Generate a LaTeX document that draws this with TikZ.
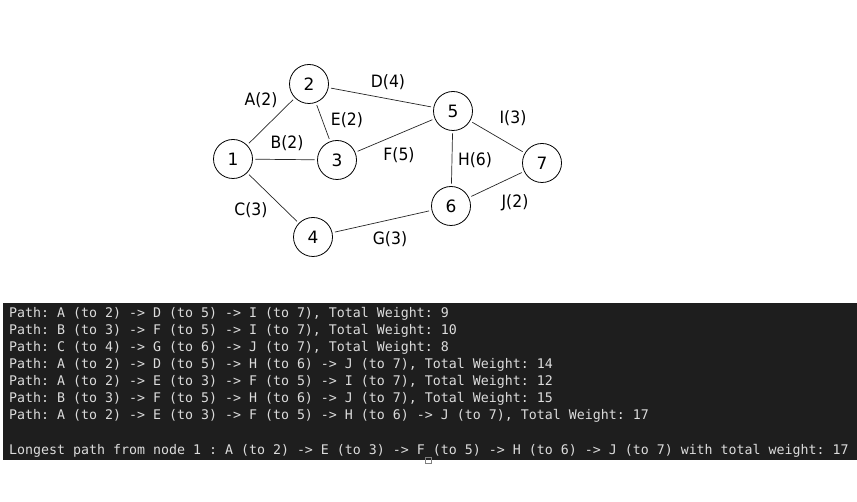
\documentclass[tikz,border=0pt]{standalone}
\usepackage{fontspec}
\setmainfont{DejaVu Sans}
\setmonofont{DejaVu Sans Mono}
\definecolor{termbg}{HTML}{1E1E1E}
\definecolor{termfg}{HTML}{DCDCDC}
\begin{document}
\begin{tikzpicture}[x=1pt,y=-1pt,
  vert/.style={circle,draw=black,line width=0.8pt,minimum size=39pt,inner sep=0pt,font=\fontsize{17}{17}\selectfont},
  edge/.style={draw=black!85,line width=0.7pt,shorten <=2.5pt,shorten >=2.5pt},
  wlab/.style={font=\fontsize{17}{17}\selectfont\addfontfeature{FakeStretch=0.92},inner sep=0pt},
  term/.style={font=\fontsize{13.28}{13}\ttfamily,text=termfg,anchor=base west,inner sep=0pt}]
\useasboundingbox (0,0) rectangle (857,502);
% graph
\node[vert] (n1) at (233,159) {1};
\node[vert] (n2) at (309,84) {2};
\node[vert] (n3) at (337,160) {3};
\node[vert] (n4) at (313,237) {4};
\node[vert] (n5) at (453,111) {5};
\node[vert] (n6) at (451,206) {6};
\node[vert] (n7) at (542,163) {7};
\draw[edge] (n1) -- (n2);
\draw[edge] (n1) -- (n3);
\draw[edge] (n1) -- (n4);
\draw[edge] (n2) -- (n5);
\draw[edge] (n2) -- (n3);
\draw[edge] (n3) -- (n5);
\draw[edge] (n4) -- (n6);
\draw[edge] (n5) -- (n6);
\draw[edge] (n5) -- (n7);
\draw[edge] (n6) -- (n7);
\node[wlab] (la) at (261,100) {A(2)};
\node[wlab] (lb) at (287,143) {B(2)};
\node[wlab] (lc) at (251,210) {C(3)};
\node[wlab] (ld) at (388,82) {D(4)};
\node[wlab] (le) at (347,120) {E(2)};
\node[wlab] (lf) at (399,155) {F(5)};
\node[wlab] (lg) at (390,239) {G(3)};
\node[wlab] (lh) at (475,160) {H(6)};
\node[wlab] (li) at (513,118) {I(3)};
\node[wlab] (lj) at (515,203) {J(2)};
% terminal
\fill[termbg] (3,303) rectangle (857,460);
\node[term] (t1) at (9,318) {Path: A (to 2) -> D (to 5) -> I (to 7), Total Weight: 9};
\node[term] (t2) at (9,335) {Path: B (to 3) -> F (to 5) -> I (to 7), Total Weight: 10};
\node[term] (t3) at (9,352) {Path: C (to 4) -> G (to 6) -> J (to 7), Total Weight: 8};
\node[term] (t4) at (9,369) {Path: A (to 2) -> D (to 5) -> H (to 6) -> J (to 7), Total Weight: 14};
\node[term] (t5) at (9,386) {Path: A (to 2) -> E (to 3) -> F (to 5) -> I (to 7), Total Weight: 12};
\node[term] (t6) at (9,403) {Path: B (to 3) -> F (to 5) -> H (to 6) -> J (to 7), Total Weight: 15};
\node[term] (t7) at (9,420) {Path: A (to 2) -> E (to 3) -> F (to 5) -> H (to 6) -> J (to 7), Total Weight: 17};
\node[term] (t8) at (9,454) {Longest path from node 1 : A (to 2) -> E (to 3) -> F (to 5) -> H (to 6) -> J (to 7) with total weight: 17};
\draw[gray,line width=0.6pt] (425.5,457.5) rectangle (431.5,463);
\end{tikzpicture}
\end{document}
